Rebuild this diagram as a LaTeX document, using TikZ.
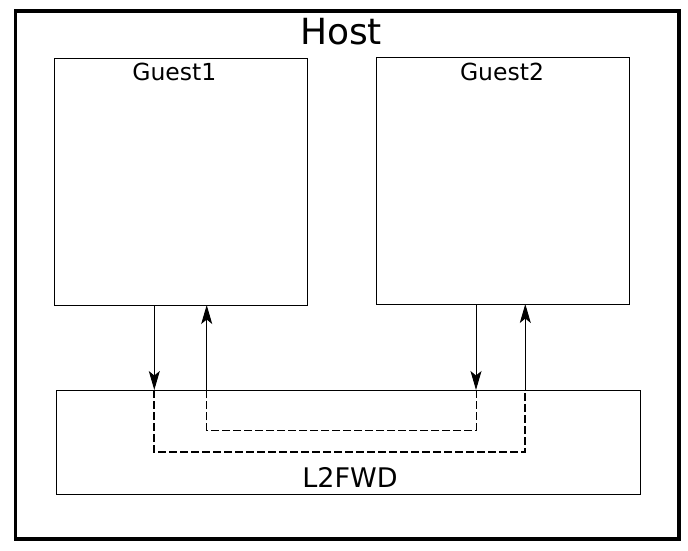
\documentclass[tikz,border=0pt]{standalone}
\usepackage{fontspec}
\setmainfont{DejaVu Sans}
\usetikzlibrary{arrows.meta}
\tikzset{
	box/.style={draw, line width=1pt, rectangle, inner sep=0pt},
	flow/.style={line width=1pt, -{Stealth[length=19pt,width=11pt,inset=4.5pt]}},
	thinpath/.style={line width=1pt, dash pattern=on 8pt off 3pt},
	thickpath/.style={line width=2pt, dash pattern=on 8pt off 3pt}
}
\begin{document}
\begin{tikzpicture}[x=1pt,y=-1pt]
				\useasboundingbox (0,0) rectangle (688,550);
				\node[box, line width=3.3pt, minimum width=663.3pt, minimum height=528pt] (host) at (347.35,275) {};
				\node[anchor=base, font=\fontsize{36}{40}\selectfont] (hostlbl) at (341,44) {Host};
				\node[box, minimum width=253pt, minimum height=246.7pt] (guest1) at (180.8,181.65) {};
				\node[anchor=base, font=\fontsize{23.5}{26}\selectfont] (g1lbl) at (174.3,80.7) {Guest1};
				\node[box, minimum width=252.3pt, minimum height=246.5pt] (guest2) at (502.85,180.75) {};
				\node[anchor=base, font=\fontsize{23.5}{26}\selectfont] (g2lbl) at (502,80.7) {Guest2};
				\node[box, minimum width=584pt, minimum height=104.5pt] (fwd) at (348,442.25) {};
				\node[anchor=base, font=\fontsize{27}{30}\selectfont] (fwdlbl) at (350,487) {L2FWD};
				% ports of the guests and of l2fwd
				\coordinate (g1tx) at (154.3,305);
				\coordinate (g1rx) at (206.7,305);
				\coordinate (g2tx) at (476,304);
				\coordinate (g2rx) at (525.3,304);
				\coordinate (f1in) at (154.3,390);
				\coordinate (f1out) at (206.7,390);
				\coordinate (f2in) at (476,390);
				\coordinate (f2out) at (525.3,390);
				\coordinate (c1) at (206.7,430);
				\coordinate (c2) at (476,430);
				\coordinate (c3) at (154.3,452);
				\coordinate (c4) at (525.3,452);
				\draw[flow] (g1tx) -- (f1in);
				\draw[flow] (f1out) -- (g1rx);
				\draw[flow] (g2tx) -- (f2in);
				\draw[flow] (f2out) -- (g2rx);
				\draw[thinpath] (f2in) -- (c2) -- (c1) -- (f1out);
				\draw[thickpath] (f1in) -- (c3) -- (c4) -- (f2out);
			\end{tikzpicture}
\end{document}
